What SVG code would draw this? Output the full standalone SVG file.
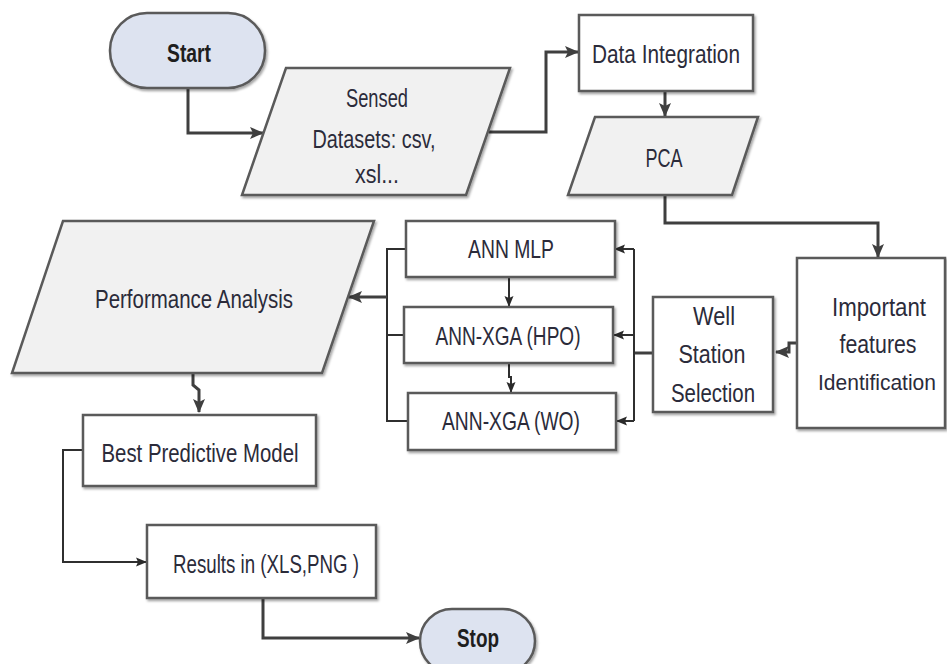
<svg xmlns="http://www.w3.org/2000/svg" width="947" height="664" viewBox="0 0 947 664">
<defs>
<marker id="ah" markerUnits="userSpaceOnUse" markerWidth="14" markerHeight="14" viewBox="0 0 14 14" refX="13" refY="7" orient="auto">
<path d="M0,1 L14,7 L0,13 L3,7 Z" fill="#3f3f3f"/>
</marker>
<marker id="ahs" markerUnits="userSpaceOnUse" markerWidth="11" markerHeight="11" viewBox="0 0 11 11" refX="10" refY="5.5" orient="auto">
<path d="M0,1 L11,5.5 L0,10 L2,5.5 Z" fill="#2a2a2a"/>
</marker>
<filter id="sh" x="-5%" y="-5%" width="115%" height="120%">
<feDropShadow dx="1.5" dy="2" stdDeviation="1" flood-color="#000" flood-opacity="0.35"/>
</filter>
</defs>
<style>
.box{fill:#ffffff;stroke:#5a5a5a;stroke-width:2.5;filter:url(#sh)}
.io{fill:#f1f1f1;stroke:#5a5a5a;stroke-width:2.5;filter:url(#sh)}
.term{fill:#dde3f0;stroke:#5a5a5a;stroke-width:2.5;filter:url(#sh)}
text{font-family:"Liberation Sans",Arial,sans-serif;font-size:26px;fill:#2b2b3a;text-anchor:middle}
.b{font-weight:bold;fill:#1e1e1e}
.c{fill:none;stroke:#3f3f3f;stroke-width:3}
.cs{fill:none;stroke:#2f2f2f;stroke-width:2}
</style>
<rect width="947" height="664" fill="#ffffff"/>
<g id="connectors">
<path class="c" d="M188,88 V133 H263" marker-end="url(#ah)"/>
<path class="c" d="M489,132 H546 V52 H578" marker-end="url(#ah)"/>
<path class="c" d="M665,91 V116" marker-end="url(#ah)"/>
<path class="c" d="M665,195 V223 H878 V257" marker-end="url(#ah)"/>
<path class="c" d="M797,343 H789 V352 H776" marker-end="url(#ah)"/>
<path class="c" d="M653,353 H634"/>
<path class="cs" d="M634,249 V421"/>
<path class="cs" d="M634,249 H615" marker-end="url(#ahs)"/>
<path class="cs" d="M634,335 H614" marker-end="url(#ahs)"/>
<path class="cs" d="M634,421 H617" marker-end="url(#ahs)"/>
<path class="cs" d="M406,249 H387 V421 H408"/>
<path class="cs" d="M404,335 H387"/>
<path class="c" d="M387,297 H349" marker-end="url(#ah)"/>
<path class="cs" d="M509,277 V306" marker-end="url(#ahs)"/>
<path class="cs" d="M509,363 V377 H511 V392" marker-end="url(#ahs)"/>
<path class="c" d="M193,373 V385 L199,390 V412" marker-end="url(#ah)"/>
<path class="cs" d="M83,450 H63 V562 H146" marker-end="url(#ahs)"/>
<path class="c" d="M263,598 V638 H419" marker-end="url(#ah)"/>
</g>
<g id="start">
<rect class="term" x="110" y="13" width="155" height="75" rx="37" ry="37"/>
<text class="b" x="189" y="62" textLength="44" lengthAdjust="spacingAndGlyphs">Start</text>
</g>
<g id="sensed">
<polygon class="io" points="286,68 510,68 466,195 242,195"/>
<text x="377" y="107" textLength="62" lengthAdjust="spacingAndGlyphs">Sensed</text>
<text x="374" y="148" textLength="123" lengthAdjust="spacingAndGlyphs">Datasets: csv,</text>
<text x="377" y="183" textLength="44" lengthAdjust="spacingAndGlyphs">xsl...</text>
</g>
<g id="data-integration">
<rect class="box" x="579" y="15" width="174" height="76"/>
<text x="666" y="63" textLength="148" lengthAdjust="spacingAndGlyphs">Data Integration</text>
</g>
<g id="pca">
<polygon class="io" points="595,117 758,117 732,195 568,195"/>
<text x="664" y="167" textLength="37" lengthAdjust="spacingAndGlyphs">PCA</text>
</g>
<g id="important">
<rect class="box" x="797" y="258" width="148" height="170"/>
<text x="879" y="316" textLength="94" lengthAdjust="spacingAndGlyphs">Important</text>
<text x="878" y="353" textLength="77" lengthAdjust="spacingAndGlyphs">features</text>
<text x="877" y="390" style="font-size:22px" textLength="118" lengthAdjust="spacingAndGlyphs">Identification</text>
</g>
<g id="well">
<rect class="box" x="653" y="297" width="120" height="115"/>
<text x="714" y="325" textLength="42" lengthAdjust="spacingAndGlyphs">Well</text>
<text x="712" y="363" textLength="67" lengthAdjust="spacingAndGlyphs">Station</text>
<text x="713" y="402" textLength="84" lengthAdjust="spacingAndGlyphs">Selection</text>
</g>
<g id="ann-mlp">
<rect class="box" x="406" y="221" width="209" height="56"/>
<text x="511" y="258" textLength="86" lengthAdjust="spacingAndGlyphs">ANN MLP</text>
</g>
<g id="ann-xga-hpo">
<rect class="box" x="404" y="307" width="209" height="56"/>
<text x="508" y="345" textLength="145" lengthAdjust="spacingAndGlyphs">ANN-XGA (HPO)</text>
</g>
<g id="ann-xga-wo">
<rect class="box" x="408" y="393" width="208" height="57"/>
<text x="511" y="430" textLength="138" lengthAdjust="spacingAndGlyphs">ANN-XGA (WO)</text>
</g>
<g id="performance">
<polygon class="io" points="63,221 374,221 322,373 12,373"/>
<text x="194" y="308" textLength="198" lengthAdjust="spacingAndGlyphs">Performance Analysis</text>
</g>
<g id="best-model">
<rect class="box" x="83" y="415" width="233" height="71"/>
<text x="200" y="462" textLength="197" lengthAdjust="spacingAndGlyphs">Best Predictive Model</text>
</g>
<g id="results">
<rect class="box" x="147" y="525" width="229" height="73"/>
<text x="266" y="573" textLength="186" lengthAdjust="spacingAndGlyphs">Results in (XLS,PNG )</text>
</g>
<g id="stop">
<rect class="term" x="420" y="609" width="115" height="64" rx="32" ry="32"/>
<text class="b" x="478" y="647" textLength="42" lengthAdjust="spacingAndGlyphs">Stop</text>
</g>
</svg>
